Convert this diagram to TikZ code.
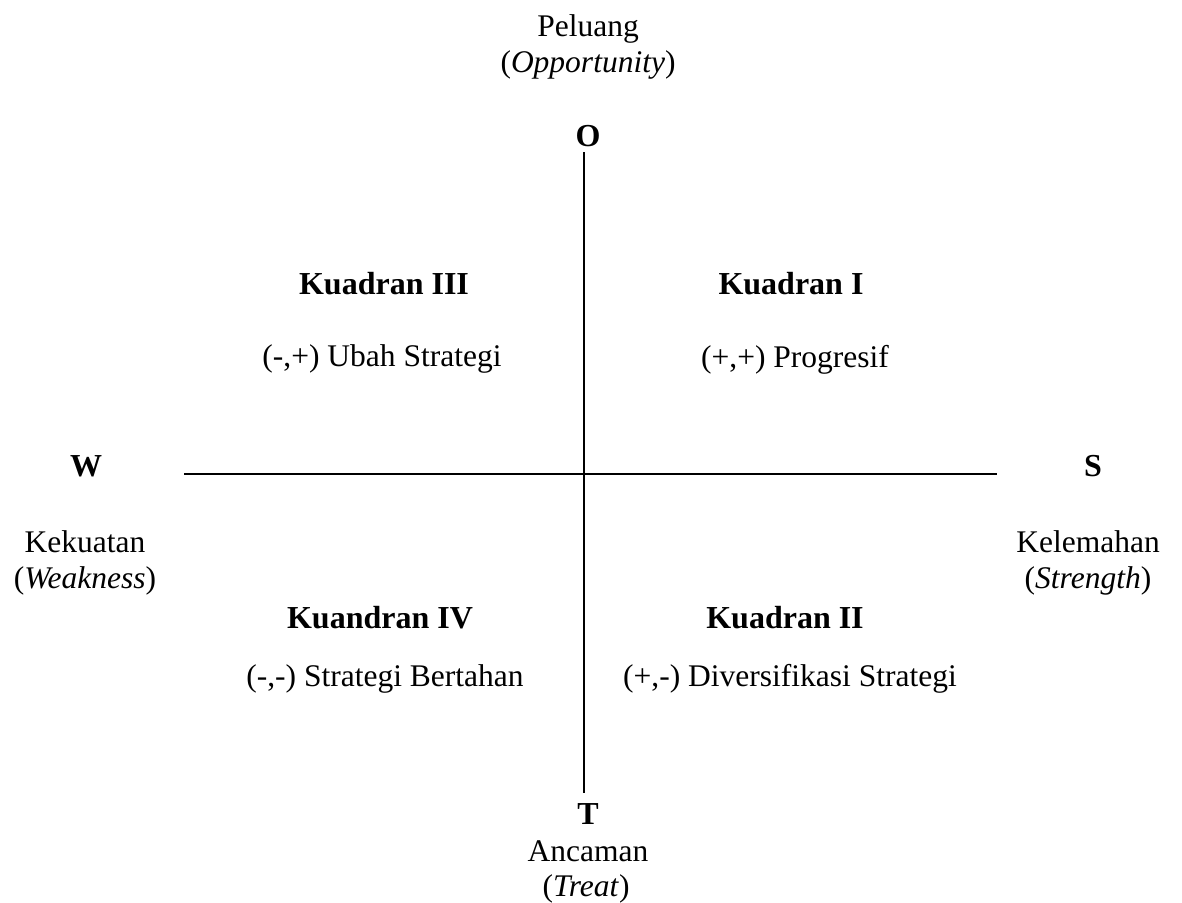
\documentclass[tikz,border=0pt]{standalone}
\usepackage{fontspec}
\setmainfont{Liberation Serif}
\begin{document}
\begin{tikzpicture}[x=1pt,y=-1pt,
  lbl/.style={font=\fontsize{31.5}{36}\selectfont, inner sep=0pt, anchor=center},
  bl/.style={lbl, font=\fontsize{32}{36}\selectfont\bfseries},
  axis/.style={line width=1.8pt}]
\useasboundingbox (0,0) rectangle (1182,902);
% axes
\coordinate (otop) at (584,152);
\coordinate (obot) at (584,793);
\coordinate (wl) at (184,474);
\coordinate (sr) at (997,474);
\draw[axis] (otop) -- (obot);
\draw[axis] (wl) -- (sr);
% top
\node[lbl] (pel) at (588,29) {Peluang};
\node[lbl] (opp) at (588,65) {(\textit{Opportunity})};
\node[bl] (O) at (588,136) {O};
% quadrants
\node[bl] (k3) at (384,284) {Kuadran III};
\node[lbl] (k3t) at (382,359) {(-,+) Ubah Strategi};
\node[bl] (k1) at (791,284) {Kuadran I};
\node[lbl] (k1t) at (795,360) {(+,+) Progresif};
\node[bl] (k4) at (380,618) {Kuandran IV};
\node[lbl] (k4t) at (385,679) {(-,-) Strategi Bertahan};
\node[bl] (k2) at (785,618) {Kuadran II};
\node[lbl] (k2t) at (790,679) {(+,-) Diversifikasi Strategi};
% sides
\node[bl] (W) at (86,466) {W};
\node[bl] (S) at (1093,466) {S};
\node[lbl] (kek) at (85,542) {Kekuatan};
\node[lbl] (weak) at (85,581) {(\textit{Weakness})};
\node[lbl] (kel) at (1088,542) {Kelemahan};
\node[lbl] (str) at (1088,581) {(\textit{Strength})};
% bottom
\node[bl] (T) at (588,814) {T};
\node[lbl] (anc) at (588,851) {Ancaman};
\node[lbl] (tre) at (586,889) {(\textit{Treat})};
\end{tikzpicture}
\end{document}
